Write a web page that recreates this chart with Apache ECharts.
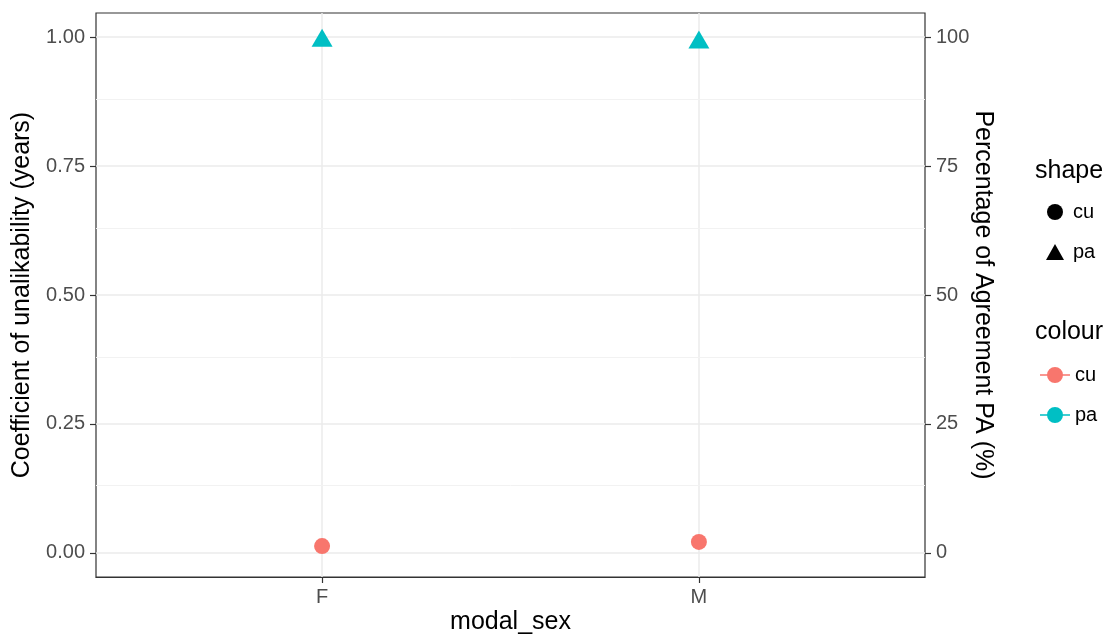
<!DOCTYPE html>
<html>
<head>
<meta charset="utf-8">
<script src="https://cdn.jsdelivr.net/npm/echarts@6/dist/echarts.min.js"></script>
<style>html,body{margin:0;padding:0;background:#fff}#c{width:1114px;height:637px}</style>
</head>
<body>
<div id="c"></div>
<script>
const categories = ['F', 'M'];
const cuValues = [0.013, 0.021];
const paValues = [99.3, 99.0];
const leftTicks = [0, 0.25, 0.5, 0.75, 1];
const rightTicks = [0, 25, 50, 75, 100];
const minorLeft = [0.125, 0.375, 0.625, 0.875];

const FONT = 'Liberation Sans, Arial, sans-serif';
const catPos = categories.map((c, i) => i + 1);
const cuData = categories.map((c, i) => [i + 1, cuValues[i]]);
const paData = categories.map((c, i) => [i + 1, paValues[i]]);

const chart = echarts.init(document.getElementById('c'), null, {renderer: 'canvas'});
const linePath = 'path://M0,7.2 L30,7.2 L30,8.8 L0,8.8 Z M7,8 A8,8 0 1,1 23,8 A8,8 0 1,1 7,8 Z';
const triPath = 'path://M9,0 L18,16 L0,16 Z';

chart.setOption({
  animation: false,
  backgroundColor: '#fff',
  textStyle: {fontFamily: FONT},
  title: [
    {text: 'shape', left: 1035, top: 159, padding: 0, textStyle: {fontSize: 25, fontWeight: 'normal', color: '#000', fontFamily: FONT}},
    {text: 'colour', left: 1035, top: 320, padding: 0, textStyle: {fontSize: 25, fontWeight: 'normal', color: '#000', fontFamily: FONT}}
  ],
  legend: [
    {
      orient: 'vertical', left: 1046, top: 202, padding: 0, itemWidth: 18, itemHeight: 16, itemGap: 20,
      textStyle: {fontSize: 20, color: '#000', fontFamily: FONT, padding: [0, 0, 0, 4]},
      data: [
        {name: 'cu', icon: 'circle', itemStyle: {color: '#000'}},
        {name: 'pa', icon: triPath, itemStyle: {color: '#000'}}
      ],
      selectedMode: false
    },
    {
      orient: 'vertical', left: 1040, top: 365, padding: 0, itemWidth: 30, itemHeight: 16, itemGap: 20,
      textStyle: {fontSize: 20, color: '#000', fontFamily: FONT},
      data: [
        {name: 'cu', icon: linePath},
        {name: 'pa', icon: linePath}
      ],
      selectedMode: false
    }
  ],
  grid: {left: 96, right: 189, top: 13, bottom: 60, outerBoundsMode: 'none', containLabel: false, show: true, borderColor: '#333', borderWidth: 1.2, backgroundColor: 'transparent'},
  xAxis: {
    type: 'value', min: 0.4, max: 2.6,
    name: 'modal_sex', nameLocation: 'middle', nameGap: 33, nameMoveOverlap: false,
    nameTextStyle: {fontSize: 25, color: '#000', fontFamily: FONT},
    axisLine: {show: true, onZero: false, lineStyle: {color: '#333', width: 1.2}},
    axisTick: {show: true, length: 6, customValues: catPos, lineStyle: {color: '#333', width: 1.2}},
    axisLabel: {customValues: catPos, fontSize: 20, color: '#4d4d4d', margin: 10, formatter: v => categories[Math.round(v) - 1] || ''},
    splitLine: {show: true, lineStyle: {color: '#ebebeb', width: 1.5}}
  },
  yAxis: [
    {
      type: 'value', min: -0.047, max: 1.047, position: 'left',
      name: 'Coefficient of unalikability (years)', nameLocation: 'middle', nameGap: 61, nameMoveOverlap: false,
      nameTextStyle: {fontSize: 25, color: '#000', fontFamily: FONT},
      axisLine: {show: false},
      axisTick: {show: true, length: 6, customValues: leftTicks, lineStyle: {color: '#333', width: 1.2}},
      axisLabel: {customValues: leftTicks, fontSize: 20, color: '#4d4d4d', margin: 11, formatter: v => v.toFixed(2)},
      splitLine: {show: true, lineStyle: {color: '#ebebeb', width: 1.5}}
    },
    {
      type: 'value', min: -4.7, max: 104.7, position: 'right',
      name: 'Percentage of Agreement PA (%)', nameLocation: 'middle', nameGap: 45, nameRotate: -90, nameMoveOverlap: false,
      nameTextStyle: {fontSize: 25, color: '#000', fontFamily: FONT},
      axisLine: {show: false},
      axisTick: {show: true, length: 6, customValues: rightTicks, lineStyle: {color: '#333', width: 1.2}},
      axisLabel: {customValues: rightTicks, fontSize: 20, color: '#4d4d4d', margin: 11, formatter: v => String(Math.round(v))},
      splitLine: {show: false}
    }
  ],
  series: [
    {
      name: 'cu', type: 'scatter', yAxisIndex: 0, data: cuData,
      symbol: 'circle', symbolSize: 16, itemStyle: {color: '#F8766D', opacity: 1},
      markLine: {
        silent: true, symbol: 'none', label: {show: false}, animation: false,
        lineStyle: {color: '#f2f2f2', width: 1, type: 'solid'},
        emphasis: {disabled: true},
        data: minorLeft.map(v => ({yAxis: v}))
      },
      z: 3
    },
    {
      name: 'pa', type: 'scatter', yAxisIndex: 1, data: paData,
      symbol: 'triangle', symbolSize: [21, 18], symbolOffset: [0, -3],
      itemStyle: {color: '#00BFC4', opacity: 1}, z: 3
    }
  ]
});
</script>
</body>
</html>
